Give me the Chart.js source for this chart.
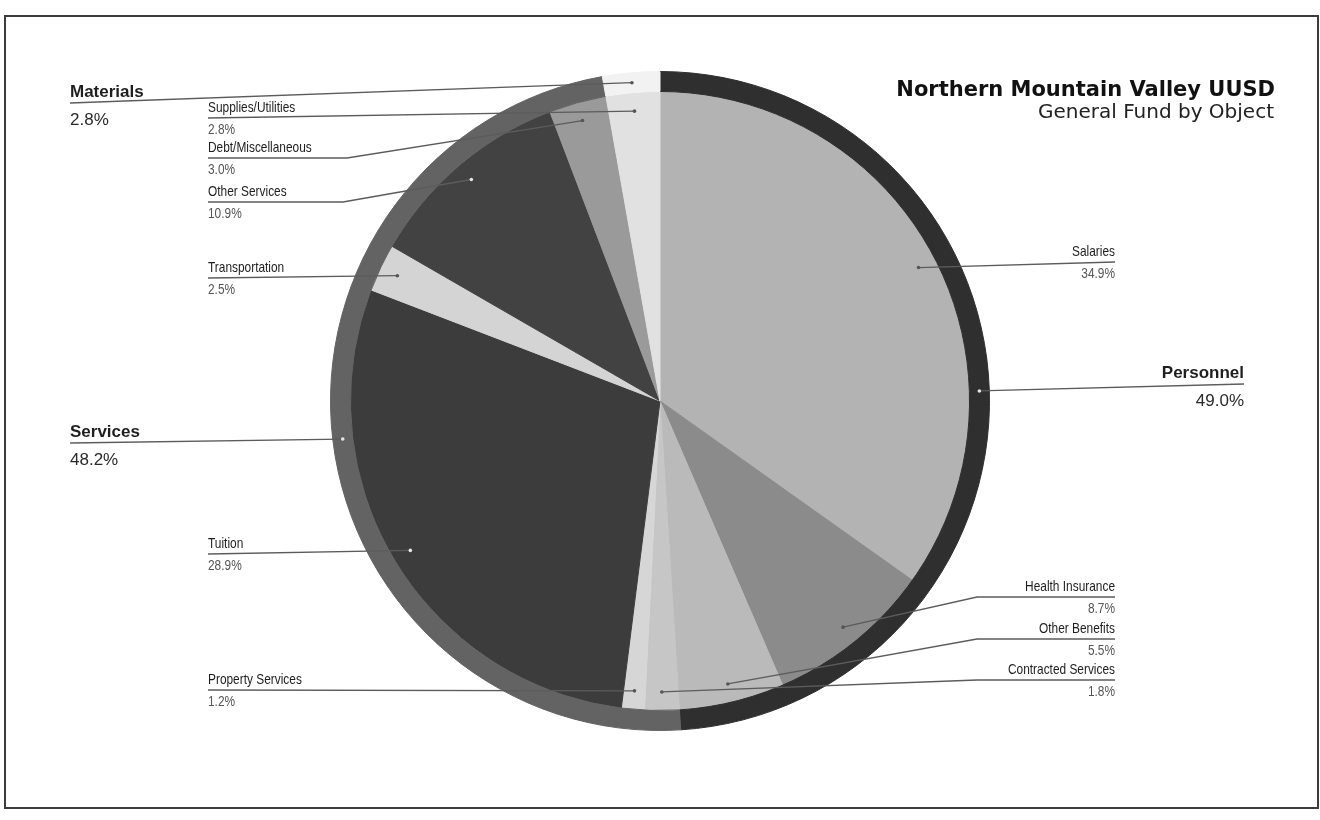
<!DOCTYPE html>
<html>
<head>
<meta charset="utf-8">
<title>General Fund by Object</title>
<script src="https://cdn.jsdelivr.net/npm/chart.js@4.4.1/dist/chart.umd.min.js"></script>
<style>
  html, body { margin: 0; padding: 0; background: #fff; }
  #wrap { position: relative; width: 1320px; height: 820px; }
  #frame { position: absolute; left: 4px; top: 15px; width: 1315px; height: 794px; box-sizing: border-box; border: 2px solid #3c3c3c; pointer-events: none; }
</style>
</head>
<body>
<div id="wrap">
  <canvas id="chart" width="1320" height="820"></canvas>
  <div id="frame"></div>
</div>
<script>
"use strict";

// outer ring: object groups
const groups = ["Personnel", "Services", "Materials"];
const groupValues = [49.0, 48.2, 2.8];

// inner pie: objects
const items = ["Salaries", "Health Insurance", "Other Benefits", "Contracted Services", "Property Services",
    "Tuition", "Transportation", "Other Services", "Debt/Miscellaneous", "Supplies/Utilities"];
const itemValues = [34.9, 8.7, 5.5, 1.8, 1.2, 28.9, 2.5, 10.9, 3.0, 2.8];

const chartTitle = "Northern Mountain Valley UUSD";
const chartSubtitle = "General Fund by Object";

const groupColors = ["#2f2f2f", "#636363", "#f2f2f2"];
const itemColors = ["#b3b3b3", "#8b8b8b", "#bababa", "#c6c6c6", "#d6d6d6",
    "#3c3c3c", "#d4d4d4", "#424242", "#9a9a9a", "#e1e1e1"];

// label placement: text edge x, underline y, optional elbow x for the leader line
const groupLabelPos = [
    { side: "right", x: 1244, y: 384 },
    { side: "left", x: 70, y: 443 },
    { side: "left", x: 70, y: 103 }
];
const itemLabelPos = [
    { side: "right", x: 1115, y: 262 },
    { side: "right", x: 1115, y: 597, elbow: 977 },
    { side: "right", x: 1115, y: 639, elbow: 977 },
    { side: "right", x: 1115, y: 680, elbow: 977 },
    { side: "left", x: 208, y: 690 },
    { side: "left", x: 208, y: 554 },
    { side: "left", x: 208, y: 278 },
    { side: "left", x: 208, y: 202, elbow: 343 },
    { side: "left", x: 208, y: 158, elbow: 347 },
    { side: "left", x: 208, y: 118 }
];

function isDark(hex) {
    return parseInt(hex.slice(1, 3), 16) < 128;
}

function drawLabels(ctx, meta, names, values, positions, colors, isRing) {
    meta.data.forEach((arc, i) => {
        const p = arc.getProps(["x", "y", "startAngle", "endAngle", "innerRadius", "outerRadius"], true);
        const a = (p.startAngle + p.endAngle) / 2;
        const r = isRing ? (p.innerRadius + p.outerRadius) / 2 : p.outerRadius * 0.94;
        const ax = p.x + Math.cos(a) * r;
        const ay = p.y + Math.sin(a) * r;
        const pos = positions[i];

        // leader line
        ctx.save();
        ctx.strokeStyle = "#5c5c5c";
        ctx.lineWidth = 1.3;
        ctx.beginPath();
        ctx.moveTo(ax, ay);
        if (pos.elbow) ctx.lineTo(pos.elbow, pos.y);
        ctx.lineTo(pos.x, pos.y);
        ctx.stroke();

        ctx.fillStyle = isDark(colors[i]) ? "#e6e6e6" : "#555";
        ctx.beginPath();
        ctx.arc(ax, ay, 1.8, 0, Math.PI * 2);
        ctx.fill();
        ctx.restore();

        // texts
        ctx.save();
        ctx.textAlign = pos.side === "left" ? "left" : "right";
        ctx.textBaseline = "alphabetic";
        const pct = values[i].toFixed(1) + "%";
        if (isRing) {
            ctx.fillStyle = "#1e1e1e";
            ctx.font = "bold 17px 'Liberation Sans', Arial, sans-serif";
            ctx.fillText(names[i], pos.x, pos.y - 6);
            ctx.fillStyle = "#2a2a2a";
            ctx.font = "17px 'Liberation Sans', Arial, sans-serif";
            ctx.fillText(pct, pos.x, pos.y + 22);
        } else {
            // narrow look
            ctx.font = "14.5px 'Liberation Sans', Arial, sans-serif";
            ctx.translate(pos.x, pos.y);
            ctx.scale(0.82, 1);
            ctx.fillStyle = "#1e1e1e";
            ctx.fillText(names[i], 0, -6);
            ctx.fillStyle = "#555";
            ctx.fillText(pct, 0, 16);
        }
        ctx.restore();
    });
}

const labelPlugin = {
    id: "leaderLabels",
    afterDatasetsDraw(chart) {
        const ctx = chart.ctx;
        drawLabels(ctx, chart.getDatasetMeta(1), items, itemValues, itemLabelPos, itemColors, false);
        drawLabels(ctx, chart.getDatasetMeta(0), groups, groupValues, groupLabelPos, groupColors, true);

        ctx.save();
        ctx.textAlign = "right";
        ctx.fillStyle = "#111";
        ctx.font = "bold 21px 'DejaVu Sans', Verdana, sans-serif";
        ctx.fillText(chartTitle, 1275, 96);
        ctx.fillStyle = "#222";
        ctx.font = "20px 'DejaVu Sans', Verdana, sans-serif";
        ctx.fillText(chartSubtitle, 1274, 118);
        ctx.restore();
    }
};

const ctx = document.getElementById("chart").getContext("2d");
new Chart(ctx, {
    type: "doughnut",
    data: {
        labels: items,
        datasets: [
            {
                label: "Object group",
                data: groupValues,
                backgroundColor: groupColors,
                borderColor: groupColors,
                borderWidth: 1,
                weight: 2
            },
            {
                label: "Object",
                data: itemValues,
                backgroundColor: itemColors,
                borderColor: itemColors,
                borderWidth: 1,
                weight: 31
            }
        ]
    },
    options: {
        responsive: false,
        devicePixelRatio: 1,
        animation: false,
        cutout: 0,
        layout: {
            padding: { top: 71, bottom: 89, left: 300, right: 300 }
        },
        plugins: {
            legend: { display: false },
            tooltip: { enabled: false }
        }
    },
    plugins: [labelPlugin]
});
</script>
</body>
</html>
